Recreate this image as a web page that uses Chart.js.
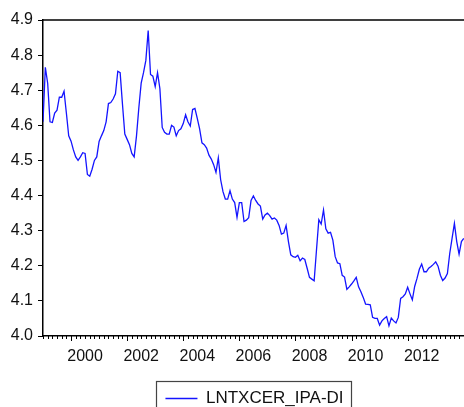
<!DOCTYPE html>
<html lang="en">
<head>
<meta charset="UTF-8">
<title>LNTXCER_IPA-DI</title>
<script src="https://cdn.jsdelivr.net/npm/chart.js"></script>
<style>
  html, body { margin: 0; padding: 0; background: #fff; overflow: hidden; }
</style>
</head>
<body>
<canvas id="chart" width="466" height="430"></canvas>
<script>
// monthly series, 1999M01 .. 2014M01
const seriesName = 'LNTXCER_IPA-DI';
const startYear = 1999;
const lnValues = [
  4.61, 4.765, 4.72, 4.61, 4.608, 4.635, 4.643, 4.68, 4.68, 4.697, 4.635, 4.57,
  4.555, 4.53, 4.51, 4.50, 4.51, 4.522, 4.52, 4.46, 4.455, 4.475, 4.50, 4.51,
  4.554, 4.57, 4.585, 4.61, 4.662, 4.665, 4.675, 4.69, 4.754, 4.75, 4.66, 4.575,
  4.56, 4.545, 4.52, 4.51, 4.57, 4.65, 4.72, 4.75, 4.785, 4.87, 4.745, 4.74,
  4.71, 4.75, 4.705, 4.594, 4.58, 4.575, 4.575, 4.60, 4.595, 4.57, 4.585, 4.59,
  4.605, 4.63, 4.61, 4.598, 4.645, 4.648, 4.62, 4.59, 4.55, 4.545, 4.535, 4.515,
  4.504, 4.488, 4.466, 4.507, 4.445, 4.411, 4.39, 4.39, 4.414, 4.39, 4.38, 4.338,
  4.38, 4.38, 4.326, 4.33, 4.337, 4.386, 4.399, 4.386, 4.376, 4.37, 4.333, 4.345,
  4.35, 4.343, 4.333, 4.336, 4.33, 4.315, 4.29, 4.293, 4.315, 4.269, 4.231, 4.226,
  4.224, 4.23, 4.214, 4.222, 4.218, 4.193, 4.167, 4.162, 4.157, 4.245, 4.331, 4.319,
  4.359, 4.305, 4.293, 4.295, 4.273, 4.226, 4.208, 4.206, 4.173, 4.168, 4.133, 4.14,
  4.148, 4.157, 4.167, 4.14, 4.126, 4.11, 4.091, 4.09, 4.089, 4.053, 4.05, 4.05,
  4.031, 4.043, 4.05, 4.055, 4.029, 4.051, 4.043, 4.037, 4.053, 4.107, 4.112, 4.12,
  4.139, 4.12, 4.103, 4.141, 4.164, 4.19, 4.205, 4.183, 4.183, 4.193, 4.198, 4.204,
  4.211, 4.199, 4.173, 4.158, 4.165, 4.178, 4.235, 4.278, 4.321, 4.269, 4.233, 4.269,
  4.278
];
const yearLabels = [2000, 2002, 2004, 2006, 2008, 2010, 2012];
const yTicks = [4.0, 4.1, 4.2, 4.3, 4.4, 4.5, 4.6, 4.7, 4.8, 4.9];

const points = lnValues.map((v, i) => ({ x: startYear + i / 12, y: v }));

Chart.defaults.font.family = '"Liberation Sans", Arial, sans-serif';
Chart.defaults.font.size = 16;
Chart.defaults.color = '#111';

// frame on top, minor/major ticks along the date axis, box round the legend
const frameTicks = {
  id: 'frameTicks',
  afterDraw(chart) {
    const ctx = chart.ctx;
    const a = chart.chartArea;
    const xs = chart.scales.x;
    ctx.save();
    ctx.strokeStyle = '#000';
    ctx.lineWidth = 1.5;
    ctx.beginPath();
    ctx.moveTo(a.left, a.top);
    ctx.lineTo(a.right, a.top);
    ctx.lineTo(a.right, a.bottom);
    ctx.stroke();

    ctx.lineWidth = 1;
    for (let k = 0; ; k++) {
      const v = startYear + k / 6;
      const px = xs.getPixelForValue(v);
      if (px > a.right) break;
      const len = (k - 6) % 12 === 0 ? 5 : 3;
      const x = Math.round(px) + 0.5;
      ctx.beginPath();
      ctx.moveTo(x, a.bottom);
      ctx.lineTo(x, a.bottom + len);
      ctx.stroke();
    }

    const lg = chart.legend;
    if (lg && lg.legendHitBoxes && lg.legendHitBoxes.length) {
      const hb = lg.legendHitBoxes[0];
      ctx.strokeStyle = '#444';
      ctx.lineWidth = 1.2;
      ctx.strokeRect(Math.round(hb.left - 9) + 0.5, Math.round(hb.top - 9.5) + 0.5,
                     Math.round(hb.width + 17), hb.height + 24);
    }
    ctx.restore();
  }
};

new Chart(document.getElementById('chart'), {
  type: 'line',
  data: {
    datasets: [{
      label: seriesName,
      data: points,
      borderColor: '#1414ff',
      backgroundColor: '#1414ff',
      borderWidth: 1.3,
      pointRadius: 0,
      tension: 0,
      fill: false
    }]
  },
  options: {
    responsive: false,
    animation: false,
    events: [],
    layout: { padding: { top: 20, right: 0, bottom: 13, left: 0 } },
    plugins: {
      tooltip: { enabled: false },
      legend: {
        position: 'bottom',
        fullSize: false,
        labels: {
          usePointStyle: true,
          pointStyle: 'line',
          pointStyleWidth: 32,
          padding: 10,
          color: '#111',
          font: { size: 17 }
        }
      }
    },
    scales: {
      x: {
        type: 'linear',
        min: 1999,
        max: 2014.08,
        afterBuildTicks: (s) => { s.ticks = yearLabels.map(y => ({ value: y + 0.5 })); },
        afterFit: (s) => { s.height = 44; },
        ticks: {
          callback: (v) => String(Math.round(v - 0.5)),
          autoSkip: false,
          maxRotation: 0,
          padding: 11,
          color: '#111'
        },
        grid: { display: true, drawOnChartArea: false, drawTicks: false },
        border: { display: true, color: '#000', width: 1.5 }
      },
      y: {
        min: 4.0,
        max: 4.9,
        afterBuildTicks: (s) => { s.ticks = yTicks.map(v => ({ value: v })); },
        afterFit: (s) => { s.width = 43; },
        ticks: {
          callback: (v) => v.toFixed(1),
          padding: 5,
          color: '#111'
        },
        grid: { drawOnChartArea: false, drawTicks: true, tickLength: 5, color: '#000', lineWidth: 1 },
        border: { display: true, color: '#000', width: 1.5 }
      }
    }
  },
  plugins: [frameTicks]
});
</script>
</body>
</html>
